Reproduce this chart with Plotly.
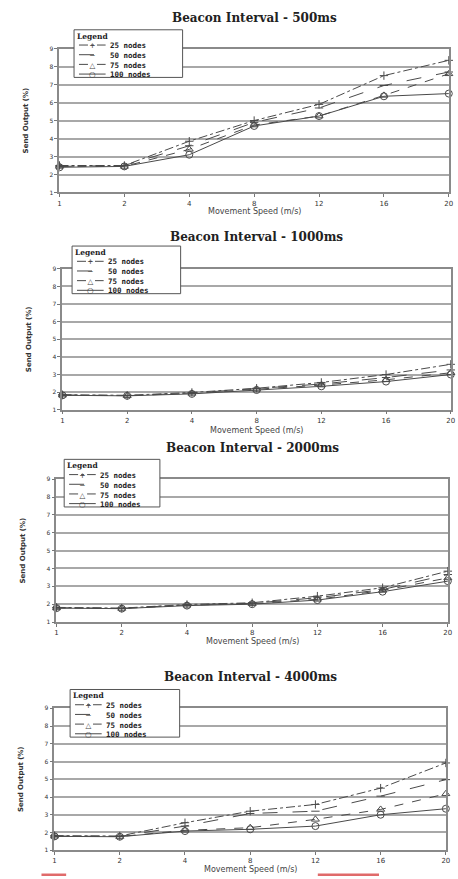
import plotly.graph_objects as go

# ---- data ----
speeds = ["1", "2", "4", "8", "12", "16", "20"]
series_names = ["25 nodes", "50 nodes", "75 nodes", "100 nodes"]
panel_titles = ["Beacon Interval - 500ms", "Beacon Interval - 1000ms",
                "Beacon Interval - 2000ms", "Beacon Interval - 4000ms"]

bi500_25 = [2.5, 2.5, 3.85, 5.0, 5.9, 7.5, 8.35]
bi500_50 = [2.45, 2.5, 3.6, 4.9, 5.7, 6.95, 7.7]
bi500_75 = [2.45, 2.45, 3.4, 4.75, 5.25, 6.4, 7.6]
bi500_100 = [2.4, 2.45, 3.1, 4.7, 5.25, 6.35, 6.5]

bi1000_25 = [1.85, 1.82, 1.98, 2.22, 2.55, 3.0, 3.58]
bi1000_50 = [1.84, 1.8, 1.95, 2.2, 2.46, 2.83, 3.26]
bi1000_75 = [1.83, 1.8, 1.93, 2.16, 2.4, 2.7, 3.1]
bi1000_100 = [1.82, 1.79, 1.9, 2.12, 2.33, 2.6, 3.0]

bi2000_25 = [1.82, 1.78, 1.98, 2.08, 2.45, 2.92, 3.85]
bi2000_50 = [1.8, 1.77, 1.96, 2.05, 2.36, 2.82, 3.66]
bi2000_75 = [1.79, 1.76, 1.94, 2.03, 2.27, 2.77, 3.47]
bi2000_100 = [1.78, 1.75, 1.92, 2.0, 2.23, 2.7, 3.29]

bi4000_25 = [1.82, 1.8, 2.55, 3.2, 3.58, 4.5, 5.92]
bi4000_50 = [1.8, 1.78, 2.36, 3.07, 3.2, 4.05, 4.98]
bi4000_75 = [1.79, 1.77, 2.12, 2.27, 2.74, 3.3, 4.18]
bi4000_100 = [1.78, 1.76, 2.08, 2.18, 2.36, 3.0, 3.34]

panels = [
    [bi500_25, bi500_50, bi500_75, bi500_100],
    [bi1000_25, bi1000_50, bi1000_75, bi1000_100],
    [bi2000_25, bi2000_50, bi2000_75, bi2000_100],
    [bi4000_25, bi4000_50, bi4000_75, bi4000_100],
]
y_ticks = [1, 2, 3, 4, 5, 6, 7, 8, 9]

# ---- layout geometry (pixels) ----
W, H = 458, 879
boxes = [  # x0, x1, ytop, ybottom
    (58, 453, 45, 190),
    (61, 455, 267, 409),
    (55, 452, 479, 623),
    (53, 450, 710, 853),
]
legend_boxes = [(73, 26, 183, 74), (71, 244, 181, 292),
                (63, 459, 160, 507), (69, 691, 180, 739)]
title_y = [14, 235, 448, 678]
xtitle_y = [209, 430, 643, 872]

styles = [
    dict(dash="dashdot", symbol="cross-thin-open", size=6, glyph="+"),
    dict(dash="longdash", symbol="line-ew-open", size=6, glyph="\u2212"),
    dict(dash="dash", symbol="triangle-up-open", size=7, glyph="\u25b3"),
    dict(dash="solid", symbol="circle-open", size=7, glyph="\u25cb"),
]
line_color = "#4a4a4a"
LEG_FS = 7.5
LINE_H = LEG_FS * 1.3


def px(x):
    return x / W


def py(y):
    return 1 - y / H


fig = go.Figure()
annotations = []
shapes = []
layout = dict(
    width=W, height=H, autosize=False, showlegend=False,
    margin=dict(l=0, r=0, t=0, b=0),
    paper_bgcolor="white", plot_bgcolor="white",
    font=dict(family="DejaVu Sans", color="#333"),
)

for p, (vals, box) in enumerate(zip(panels, boxes)):
    i = p + 1
    xa = "x" if i == 1 else f"x{i}"
    ya = "y" if i == 1 else f"y{i}"
    for s, name in enumerate(series_names):
        st = styles[s]
        fig.add_trace(go.Scatter(
            x=speeds, y=vals[s], name=name, mode="lines+markers",
            xaxis=xa, yaxis=ya, cliponaxis=False,
            line=dict(color=line_color, width=1, dash=st["dash"]),
            marker=dict(symbol=st["symbol"], size=st["size"],
                        color=line_color, line=dict(color=line_color, width=1)),
        ))
    x0, x1, yt, yb = box
    layout[f"xaxis{'' if i == 1 else i}"] = dict(
        domain=[px(x0), px(x1)], anchor=ya, type="category",
        range=[-0.004, 6.004], showgrid=False, zeroline=False,
        showline=True, mirror=True, linecolor="#8a8a8a", linewidth=1.5,
        ticks="outside", ticklen=3, tickcolor="#777",
        tickfont=dict(size=7, color="#333", family="DejaVu Sans"),
    )
    layout[f"yaxis{'' if i == 1 else i}"] = dict(
        domain=[py(yb), py(yt)], anchor=xa,
        range=[1, 9], tickvals=y_ticks, ticktext=[str(v) for v in y_ticks],
        showgrid=True, gridcolor="#a8a8a8", gridwidth=1.5, zeroline=False,
        showline=True, mirror=True, linecolor="#8a8a8a", linewidth=1.5,
        ticks="outside", ticklen=3, tickcolor="#777",
        tickfont=dict(size=6, color="#333", family="DejaVu Sans"),
        title=dict(text="<b>Send Output (%)</b>", standoff=20,
                   font=dict(size=7, color="#333", family="DejaVu Sans")),
    )
    annotations.append(dict(
        text="<b>" + panel_titles[p] + "</b>", xref="paper", yref="paper",
        x=px((x0 + x1) / 2), y=py(title_y[p]),
        xanchor="center", yanchor="middle", showarrow=False,
        font=dict(size=12, family="DejaVu Serif", color="#222"),
    ))
    annotations.append(dict(
        text="Movement Speed (m/s)", xref="paper", yref="paper",
        x=px((x0 + x1) / 2), y=py(xtitle_y[p]),
        xanchor="center", yanchor="middle", showarrow=False,
        font=dict(size=8, family="DejaVu Sans", color="#444"),
    ))

    # ---- compact legend box ----
    lx0, ly0, lx1, ly1 = legend_boxes[p]
    shapes.append(dict(type="rect", xref="paper", yref="paper",
                       x0=px(lx0), x1=px(lx1), y0=py(ly1), y1=py(ly0),
                       fillcolor="white", line=dict(color="#555", width=1)))
    annotations.append(dict(
        text="<b>Legend</b>", xref="paper", yref="paper",
        x=px(lx0 + 2), y=py(ly0 + 1), xanchor="left", yanchor="top",
        showarrow=False, borderpad=0,
        font=dict(size=LEG_FS, family="DejaVu Serif", color="#222"),
    ))
    rows_top = ly0 + 10.5
    annotations.append(dict(
        text="<br>".join(st["glyph"] for st in styles), xref="paper", yref="paper",
        x=px(lx0 + 18.5), y=py(rows_top), xanchor="center", yanchor="top",
        align="center", showarrow=False, borderpad=0,
        font=dict(size=LEG_FS, family="DejaVu Sans", color="#444"),
    ))
    annotations.append(dict(
        text="<br>".join("<b>" + n + "</b>" for n in series_names),
        xref="paper", yref="paper",
        x=px(lx0 + 35), y=py(rows_top), xanchor="left", yanchor="top",
        align="left", showarrow=False, borderpad=0,
        font=dict(size=LEG_FS, family="DejaVu Sans Mono", color="#222"),
    ))
    for s in range(len(series_names)):
        ry = rows_top + LINE_H * (s + 0.5)
        shapes.append(dict(type="line", xref="paper", yref="paper",
                           x0=px(lx0 + 5), x1=px(lx0 + 32), y0=py(ry), y1=py(ry),
                           line=dict(color=line_color, width=1, dash=styles[s]["dash"])))

shapes += [
    dict(type="rect", xref="paper", yref="paper", x0=px(40), x1=px(65),
         y0=0, y1=2.5 / H, fillcolor="#e06a6a", line=dict(width=0)),
    dict(type="rect", xref="paper", yref="paper", x0=px(320), x1=px(382),
         y0=0, y1=2.5 / H, fillcolor="#e06a6a", line=dict(width=0)),
]
layout["annotations"] = annotations
layout["shapes"] = shapes
fig.update_layout(**layout)
fig.write_html("out.html", config={"displayModeBar": False})

# remove the default page margin so the figure sits at the window's top-left
with open("out.html", "r", encoding="utf-8") as f:
    html = f.read()
html = html.replace("<head>", "<head><style>html,body{margin:0;padding:0;overflow:hidden;}</style>", 1)
with open("out.html", "w", encoding="utf-8") as f:
    f.write(html)
